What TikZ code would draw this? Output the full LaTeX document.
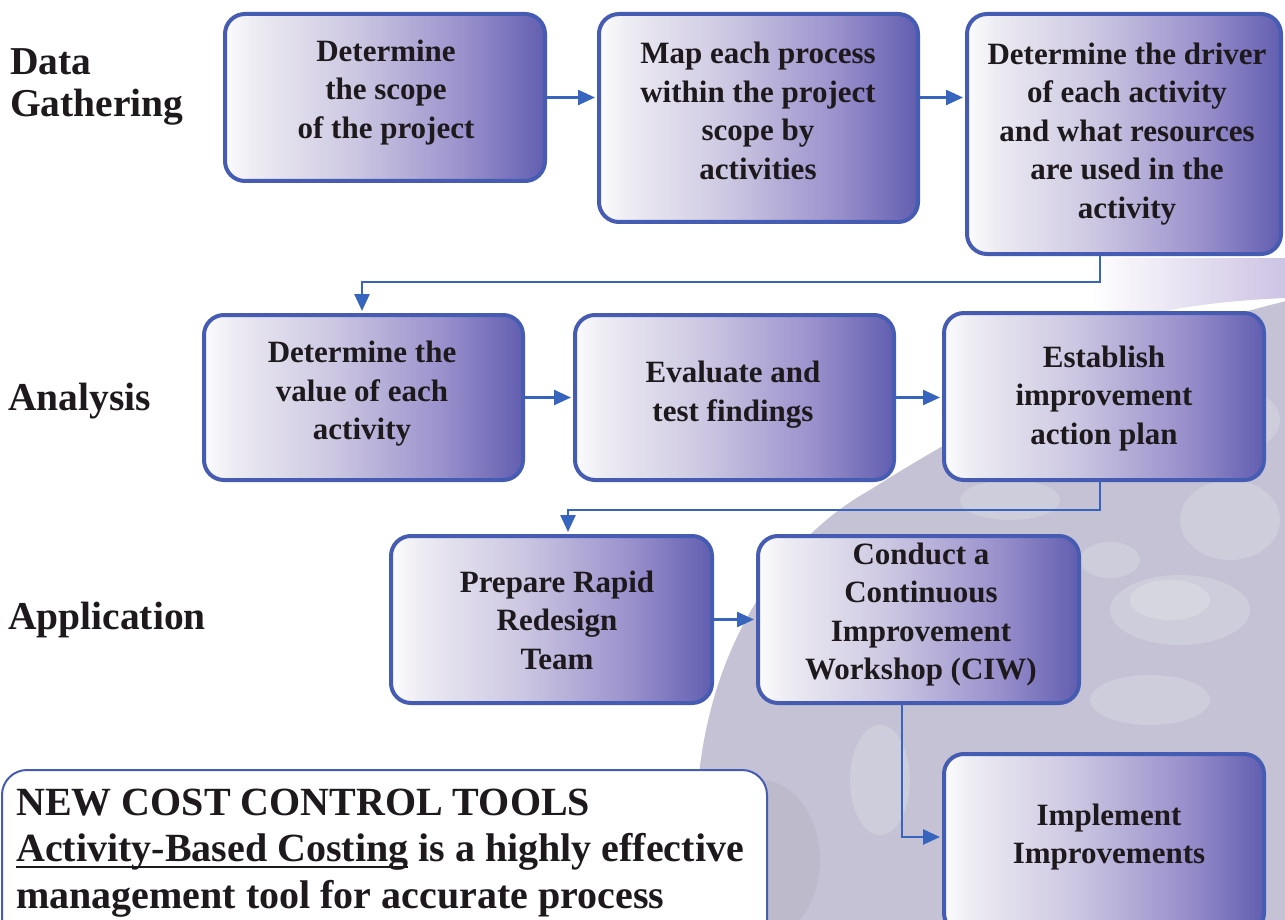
\documentclass[tikz,border=0pt]{standalone}
\usepackage{fontspec}
\setmainfont{Liberation Serif}
\usetikzlibrary{arrows.meta}
\definecolor{bord}{RGB}{70,92,178}
\definecolor{connc}{RGB}{55,100,188}
\definecolor{txt}{RGB}{30,25,28}
\definecolor{gz}{RGB}{252,252,253}
\definecolor{ga}{RGB}{236,234,242}
\definecolor{gb}{RGB}{205,200,226}
\definecolor{gc}{RGB}{155,146,205}
\definecolor{gd}{RGB}{98,94,176}
\definecolor{globec}{RGB}{196,194,212}
\definecolor{lav}{RGB}{205,195,228}
\pgfdeclarehorizontalshading{boxgrad}{100bp}{color(0bp)=(gz); color(25bp)=(gz); color(30bp)=(ga); color(45bp)=(gb); color(62bp)=(gc); color(75bp)=(gd); color(100bp)=(gd)}
\newcommand\bxs{\rule[-7pt]{0pt}{29pt}}
\newcommand\lbs{\rule[-9pt]{0pt}{37pt}}
\newcommand\bts{\rule[-10pt]{0pt}{40pt}}
\newlength\ulw
\newcommand\myul[1]{\settowidth\ulw{#1}\rlap{\rule[-6.5pt]{\ulw}{2.5pt}}#1}
\begin{document}
\begin{tikzpicture}[x=1pt,y=-1pt,
  box/.style={draw=bord, line width=4pt, rounded corners=20pt, shading=boxgrad, inner sep=0pt},
  boxtext/.style={font=\fontsize{31}{38.5}\selectfont\bfseries, text=txt, align=center, inner sep=0pt},
  sidelabel/.style={font=\fontsize{39.5}{42}\selectfont\bfseries, text=txt, align=left, inner sep=0pt},
  link/.style={draw=connc, line width=2.5pt, -{Triangle[length=17pt,width=15pt]}, shorten >=2pt},
  blob/.style={white, opacity=0.18}]
\useasboundingbox (0,0) rectangle (1285,920);
\clip (0,0) rectangle (1285,920);
\fill[white] (0,0) rectangle (1285,920);
% background swoosh and globe
\shade[left color=white, right color=lav] (1090,258) -- (1285,258) -- (1285,298) .. controls (1240,300) and (1200,304) .. (1160,312) -- (1090,312) -- cycle;
\begin{scope}
\clip (693,935) -- (697,800) .. controls (705,650) and (780,540) .. (870,490) .. controls (980,420) and (1150,330) .. (1300,298) -- (1300,935) -- cycle;
\fill[globec] (680,280) rectangle (1300,935);
\fill[blob] (1180,610) ellipse (70pt and 35pt);
\fill[blob] (1170,600) ellipse (40pt and 20pt);
\fill[blob] (1230,520) ellipse (50pt and 40pt);
\fill[blob] (1150,700) ellipse (60pt and 25pt);
\fill[blob] (1110,560) ellipse (30pt and 18pt);
\fill[blob] (880,780) ellipse (30pt and 55pt);
\fill[blob] (1010,500) ellipse (50pt and 20pt);
\fill[blob] (1240,420) ellipse (40pt and 30pt);
\fill[black, opacity=0.04] (760,860) ellipse (60pt and 80pt);
\end{scope}
% boxes
\node[box, minimum width=320pt, minimum height=167pt] (b1) at (385,97.5) {};
\node[box, minimum width=319pt, minimum height=208pt] (b2) at (758.5,118) {};
\node[box, minimum width=314pt, minimum height=240pt] (b3) at (1124,134) {};
\node[box, minimum width=319pt, minimum height=165pt] (b4) at (363.5,397.5) {};
\node[box, minimum width=319pt, minimum height=165pt] (b5) at (734.5,397.5) {};
\node[box, minimum width=320pt, minimum height=167pt] (b6) at (1104,396.5) {};
\node[box, minimum width=321pt, minimum height=167pt] (b7) at (551.5,619.5) {};
\node[box, minimum width=321pt, minimum height=167pt] (b8) at (918.5,619.5) {};
\node[box, minimum width=320pt, minimum height=179pt] (b9) at (1104,843.5) {};
% box texts
\node[boxtext] (t1) at (386,92.5) {\bxs Determine\\\bxs the scope\\\bxs of the project};
\node[boxtext] (t2) at (758,114) {\bxs Map each process\\\bxs within the project\\\bxs scope by\\\bxs activities};
\node[boxtext] (t3) at (1127,134) {\bxs Determine the driver\\\bxs of each activity\\\bxs and what resources\\\bxs are used in the\\\bxs activity};
\node[boxtext] (t4) at (362,393.5) {\bxs Determine the\\\bxs value of each\\\bxs activity};
\node[boxtext] (t5) at (733,394.5) {\bxs Evaluate and\\\bxs test findings};
\node[boxtext] (t6) at (1104,398) {\bxs Establish\\\bxs improvement\\\bxs action plan};
\node[boxtext] (t7) at (557,623) {\bxs Prepare Rapid\\\bxs Redesign\\\bxs Team};
\node[boxtext] (t8) at (921,614.5) {\bxs Conduct a\\\bxs Continuous\\\bxs Improvement\\\bxs Workshop (CIW)};
\node[boxtext] (t9) at (1109,837) {\bxs Implement\\\bxs Improvements};
% side labels
\node[sidelabel, anchor=west] (l1) at (10,86.5) {\lbs Data\\\lbs Gathering};
\node[sidelabel, anchor=base west] (l2) at (8,410) {Analysis};
\node[sidelabel, anchor=base west] (l3) at (8,629) {Application};
% connectors
\coordinate (k1) at (1100,282);
\coordinate (k2) at (362,282);
\coordinate (k3) at (1100,510);
\coordinate (k4) at (568,510);
\coordinate (k5) at (902,837);
\draw[link] (b1.east) -- (b1.east -| b2.west);
\draw[link] (b2.east |- b1.east) -- (b3.west |- b1.east);
\draw[link] (b3.south -| k1) -- (k1) -- (k2) -- (b4.north -| k2);
\draw[link] (b4.east) -- (b5.west);
\draw[link] (b5.east) -- (b5.east -| b6.west);
\draw[link] (b6.south -| k3) -- (k3) -- (k4) -- (b7.north -| k4);
\draw[link] (b7.east) -- (b8.west);
\draw[link] (b8.south -| k5) -- (k5) -- (k5 -| b9.west);
% bottom text box
\draw[draw=bord, line width=2pt, fill=white, rounded corners=25pt] (2,770) rectangle (767,960);
\node[font=\fontsize{40}{46.5}\selectfont\bfseries, text=txt, align=left, inner sep=0pt, anchor=west] (note) at (16,851.5)
  {\bts NEW COST CONTROL TOOLS\\\myul{Activity-Based Costing} is a highly effective\\\bts management tool for accurate process};
\end{tikzpicture}
\end{document}
